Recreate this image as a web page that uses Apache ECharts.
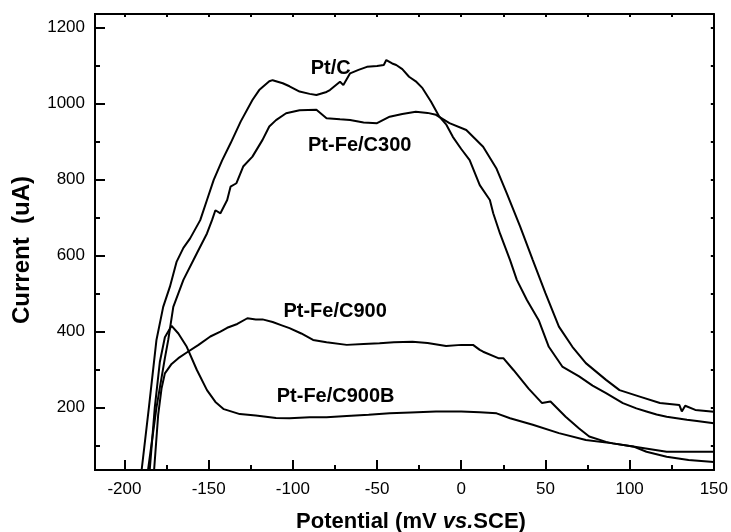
<!DOCTYPE html>
<html><head><meta charset="utf-8">
<script src="https://cdn.jsdelivr.net/npm/echarts@6/dist/echarts.min.js"></script>
<style>html,body{margin:0;padding:0;background:#fff}#c{width:731px;height:532px}</style>
</head><body><div id="c"></div>
<script>
var xMajorTicks = [-200, -150, -100, -50, 0, 50, 100, 150];
var xMinorTicks = [-175, -125, -75, -25, 25, 75, 125];
var xTopTicks = [-200, -175, -150, -125, -100, -75, -50, -25, 0, 25, 50, 75, 100, 125, 150];
var yMajorTicks = [200, 400, 600, 800, 1000, 1200];
var yMinorTicks = [100, 300, 500, 700, 900, 1100];
var yRightTicks = [100, 200, 300, 400, 500, 600, 700, 800, 900, 1000, 1100, 1200];

var ptC = [[-189.8,36],[-185.5,200],[-181,378],[-177,465],[-173,518],[-169,584],[-165,620],[-161,645],[-155,693],[-151,746],[-147,799],[-142,850],[-137,895],[-131,952],[-124,1009],[-120,1035],[-114,1058],[-112,1061],[-106,1053],[-102,1045],[-96,1031],[-90,1025],[-86,1022],[-80,1030],[-78,1035],[-72,1057],[-70,1048],[-66,1079],[-61,1088],[-56,1096],[-50,1098],[-46,1101],[-44.5,1114],[-41,1105],[-38.6,1101],[-35,1090],[-31,1070],[-27,1058],[-23,1040],[-18,1005],[-13,965],[-9,945],[-5,912],[0,880],[5,851],[11,785],[17,746],[19,711],[23,658],[29,588],[33,536],[39,483],[46,430],[52,360],[60,308],[70,282],[78,258],[86,238],[96,212],[104,198],[110,190],[116,182],[122,176],[128,172],[134,168],[140,165],[150,159]];
var ptFeC300 = [[-186,36],[-181,200],[-176,330],[-174,378],[-171,465],[-165,536],[-157,606],[-151,658],[-148,693],[-146,719],[-143,711],[-139,746],[-137,781],[-133.5,790],[-129.5,834],[-124,860],[-118,904],[-114,939],[-110,956],[-104,974],[-96,982],[-86,983],[-80,961],[-72,958],[-66,956],[-58,950],[-50,948],[-42.5,965],[-35,972],[-27,978],[-20,975],[-15,970],[-7,948],[3,930],[13,886],[21,828],[27,764],[35,676],[42.5,588],[50,501],[58,413],[66,360],[74,317],[86,273],[94,246],[106,229],[118,212],[129.5,207],[131,190],[133,205],[139,194],[150,189]];
var ptFeC900 = [[-182.4,36],[-180,180],[-178,250],[-176,290],[-172,315],[-168,330],[-163,345],[-156,365],[-149,387],[-143,400],[-139,410],[-133,420],[-127,435],[-122,432],[-118,432],[-112,425],[-107,417],[-102,409],[-95,395],[-88,378],[-80,372],[-68,365],[-58,367],[-48.5,369],[-40,372],[-29,373],[-20,370],[-9,362],[0,365],[7,365],[11,352],[13,347],[22,330],[25,330],[31,299],[40,250],[48,212],[53,216],[62,176],[70,145],[76,124],[86,110],[90,106],[102,98],[110,84],[122,71],[135,62],[150,57]];
var ptFeC900B = [[-185,36],[-182,200],[-179,320],[-176,385],[-172,415],[-168,395],[-163,360],[-157,299],[-151,246],[-146,215],[-141,196],[-131.5,183],[-122,179],[-110,173],[-102,172],[-90,175],[-80,175],[-68,178],[-55,181],[-42.5,185],[-30,187],[-15,189.5],[0,190],[11,188],[21,185],[29,172],[42.5,155],[58,133],[74,115],[90,106],[102,98],[122,84],[135,84],[150,84]];

var seriesNames = ['Pt/C', 'Pt-Fe/C300', 'Pt-Fe/C900', 'Pt-Fe/C900B'];
var labelPos = [[-77.5, 1093], [-60.3, 890], [-74.9, 452], [-74.6, 229]];

var X_MIN = -217.5, X_MAX = 150, Y_MIN = 36, Y_MAX = 1235;
var FONT = 'Liberation Sans, Arial, sans-serif';

var chart = echarts.init(document.getElementById('c'), null, {renderer: 'canvas'});

var lineStyle = {color: '#000', width: 2};
var tickStyle = {color: '#000', width: 2};
var fmt = function (v) { return String(v); };

function xAx(opts) {
  return Object.assign({
    type: 'value', min: X_MIN, max: X_MAX, position: 'bottom', offset: 0,
    axisLine: {show: true, onZero: false, lineStyle: lineStyle}, axisLabel: {show: false},
    axisTick: {show: false}, splitLine: {show: false}
  }, opts);
}
function yAx(opts) {
  return Object.assign({
    type: 'value', min: Y_MIN, max: Y_MAX, position: 'left', offset: 0,
    axisLine: {show: true, onZero: false, lineStyle: lineStyle}, axisLabel: {show: false},
    axisTick: {show: false}, splitLine: {show: false}
  }, opts);
}

var option = {
  animation: false,
  backgroundColor: '#fff',
  grid: {left: 95, top: 14, right: 16, bottom: 62, containLabel: false},
  xAxis: [
    xAx({axisLabel: {show: true, customValues: xMajorTicks, formatter: fmt, color: '#000', fontSize: 17, fontFamily: FONT, margin: 11}}),
    xAx({axisTick: {show: true, inside: true, length: 10, lineStyle: tickStyle, customValues: xMajorTicks}}),
    xAx({axisTick: {show: true, inside: true, length: 5, lineStyle: tickStyle, customValues: xMinorTicks}}),
    xAx({position: 'top', axisTick: {show: true, inside: true, length: 3, lineStyle: tickStyle, customValues: xTopTicks}})
  ],
  yAxis: [
    yAx({axisLabel: {show: true, customValues: yMajorTicks, formatter: fmt, color: '#000', fontSize: 17, fontFamily: FONT, margin: 10}}),
    yAx({axisTick: {show: true, inside: true, length: 10, lineStyle: tickStyle, customValues: yMajorTicks}}),
    yAx({axisTick: {show: true, inside: true, length: 5, lineStyle: tickStyle, customValues: yMinorTicks}}),
    yAx({position: 'right', axisTick: {show: true, inside: true, length: 3, lineStyle: tickStyle, customValues: yRightTicks}})
  ],
  series: [ptC, ptFeC300, ptFeC900, ptFeC900B].map(function (d, i) {
    return {
      name: seriesNames[i], type: 'line', data: d, xAxisIndex: 0, yAxisIndex: 0,
      showSymbol: false, symbol: 'none', smooth: false,
      lineStyle: {color: '#000', width: 2}, clip: true
    };
  })
};
chart.setOption(option);

var graphics = [];
seriesNames.forEach(function (n, i) {
  var p = chart.convertToPixel({xAxisIndex: 0, yAxisIndex: 0}, labelPos[i]);
  graphics.push({type: 'text', x: p[0], y: p[1],
    style: {text: n, fill: '#000', font: 'bold 20px ' + FONT, align: 'center', verticalAlign: 'middle'}});
});
graphics.push({type: 'text', x: 411, y: 522,
  style: {text: '{b|Potential (mV }{i|vs.}{b|SCE)}', align: 'center', verticalAlign: 'middle',
    rich: {b: {font: 'bold 22px ' + FONT, fill: '#000'}, i: {font: 'italic bold 22px ' + FONT, fill: '#000'}}}});
graphics.push({type: 'text', x: 22, y: 250, rotation: Math.PI / 2,
  style: {text: 'Current  (uA)', fill: '#000', font: 'bold 24px ' + FONT, align: 'center', verticalAlign: 'middle'}});
chart.setOption({graphic: graphics});
</script>
</body></html>
